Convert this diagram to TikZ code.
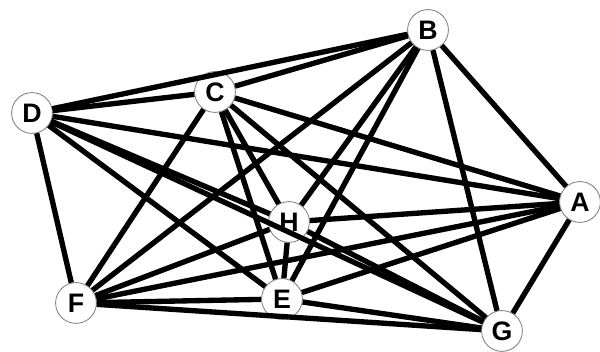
\documentclass[tikz,border=0pt]{standalone}
\usepackage{fontspec}
\setmainfont{Liberation Sans}
\begin{document}
\begin{tikzpicture}[x=.025cm,y=.025cm,
  vtx/.style={circle,draw=gray,fill=white,line width=.6pt,minimum size=1.02cm,inner sep=0pt,font=\bfseries\fontsize{19}{20}\selectfont},
  edge/.style={line width=3.8pt}]
\useasboundingbox (0,0) rectangle (600,352);
\node[vtx] (A) at (580,150){A};\node[vtx] (B) at (428,322){B};
\node[vtx] (C) at (215,260){C};\node[vtx] (D) at (32,239){D};
\node[vtx] (E) at (282,53){E};\node[vtx] (F) at (76,49){F};
\node[vtx] (G) at (502,21){G};\node[vtx] (H) at (289,130){H};
% every pair joined
\foreach \u/\v in {A/B,A/C,A/D,A/E,A/F,A/G,A/H,B/C,B/D,B/E,B/F,B/G,B/H,C/D,C/E,C/F,C/G,C/H,
  D/E,D/F,D/G,D/H,E/F,E/G,E/H,F/G,F/H,G/H}
  \draw[edge] (\u)--(\v);
\end{tikzpicture}
\end{document}
